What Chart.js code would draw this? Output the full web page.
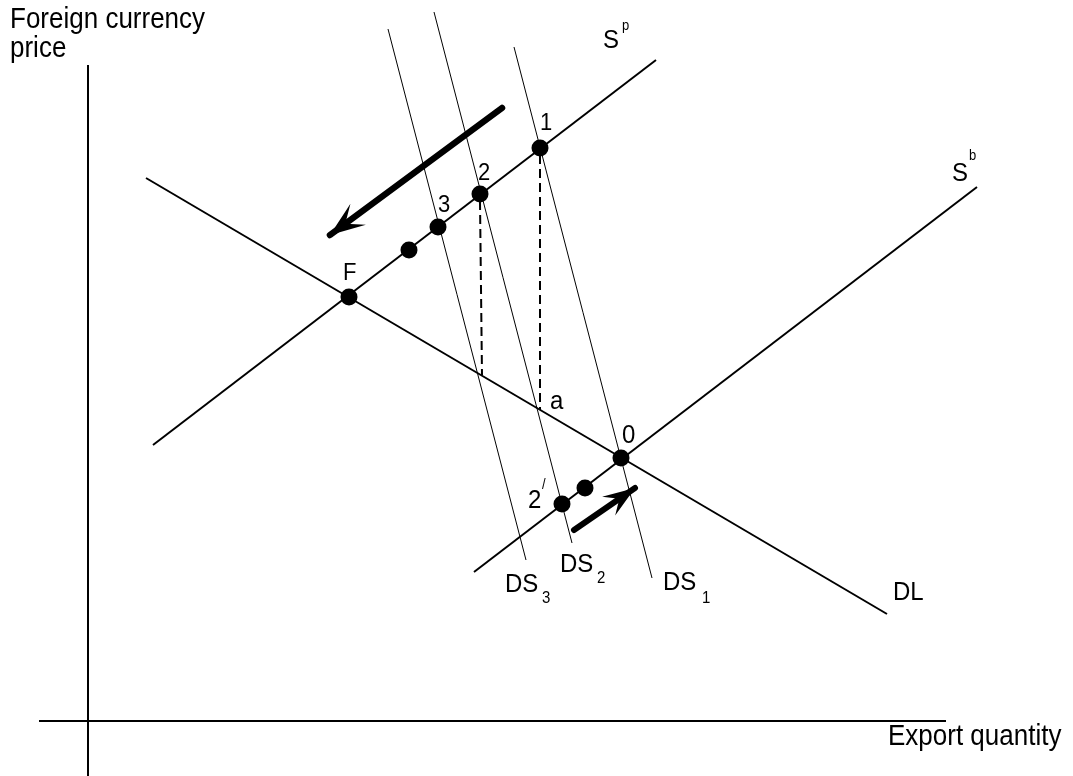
<!DOCTYPE html>
<html><head><meta charset="utf-8">
<script src="https://cdn.jsdelivr.net/npm/chart.js@4.4.1/dist/chart.umd.min.js"></script>
<style>html,body{margin:0;padding:0;background:#fff;overflow:hidden}#wrap{width:1073px;height:776px}</style>
</head><body><div id="wrap"><canvas id="c" width="1073" height="776"></canvas></div>
<script>
// ---- data (diagram units) ----
const xRange = [-8.8, 98.5];
const yRange = [-5.5, 72.1];
const axisXLine = [[-4.9, 0], [85.8, 0]];
const axisYLine = [[0, 65.6], [0, -5.5]];
const supplySp = [[6.5, 27.6], [56.8, 66.1]];
const supplySb = [[38.6, 14.9], [88.9, 53.4]];
const demandDL = [[5.8, 54.3], [79.9, 10.7]];
const demandDS1 = [[42.6, 67.4], [56.4, 14.3]];
const demandDS2 = [[34.6, 70.9], [48.4, 17.8]];
const demandDS3 = [[30.0, 69.2], [43.8, 16.1]];
const dropFrom1 = [[45.2, 56.6], [45.2, 31.1]];
const dropFrom2 = [[39.2, 52.0], [39.4, 34.6]];
const arrowBig = [[41.4, 61.3], [24.2, 48.6]];
const arrowSmall = [[48.6, 19.1], [54.7, 23.3]];
const equilibriumPoints = [[26.1, 42.4], [45.2, 57.3], [39.2, 52.7], [35.0, 49.4], [32.1, 47.1], [53.3, 26.3], [49.7, 23.3], [47.4, 21.7]];
// text labels: [text, x, y, fontSize]
const textLabels = [
  ["Foreign currency", -7.8, 69.3, 26],
  ["price", -7.8, 66.4, 26],
  ["Export quantity", 80.0, -2.4, 26],
  ["S", 51.5, 67.3, 24], ["p", 53.4, 69.1, 13],
  ["S", 86.4, 54.0, 24], ["b", 88.1, 56.1, 13],
  ["1", 45.2, 59.1, 22],
  ["2", 39.0, 54.1, 22],
  ["3", 35.0, 50.9, 22],
  ["F", 25.5, 44.1, 22],
  ["a", 46.2, 31.2, 24],
  ["0", 53.4, 27.8, 24],
  ["2", 44.0, 21.3, 24], ["/", 45.4, 23.2, 13],
  ["DS", 41.7, 12.9, 24], ["3", 45.4, 11.8, 15],
  ["DS", 47.2, 14.9, 24], ["2", 50.9, 13.8, 15],
  ["DS", 57.5, 13.1, 24], ["1", 61.4, 11.8, 15],
  ["DL", 80.5, 12.1, 24]
];

const pts = a => a.map(p => ({x: p[0], y: p[1]}));
const lineDS = (arr, w, extra) => Object.assign({
  data: pts(arr), showLine: true, borderColor: '#000', backgroundColor: '#000',
  borderWidth: w, pointRadius: 0, pointHoverRadius: 0, fill: false, tension: 0, order: 5, clip: false
}, extra || {});

const FONT = '"Liberation Sans", Arial, Helvetica, sans-serif';

const textPlugin = {
  id: 'textLabels',
  afterDatasetsDraw(chart) {
    const {ctx, scales: {x, y}} = chart;
    ctx.save();
    ctx.fillStyle = '#000';
    ctx.textAlign = 'left';
    ctx.textBaseline = 'alphabetic';
    textLabels.forEach(([t, lx, ly, s]) => {
      ctx.save();
      ctx.font = s + 'px ' + FONT;
      ctx.translate(x.getPixelForValue(lx), y.getPixelForValue(ly));
      ctx.scale(1, 1.1);
      ctx.fillText(t, 0, 0);
      ctx.restore();
    });
    ctx.restore();
  }
};

const arrowPlugin = {
  id: 'arrowHeads',
  afterDatasetsDraw(chart) {
    const ctx = chart.ctx;
    chart.data.datasets.forEach((ds, i) => {
      if (!ds.arrowHead) return;
      const els = chart.getDatasetMeta(i).data;
      const a = els[els.length - 2], b = els[els.length - 1];
      const dx = b.x - a.x, dy = b.y - a.y, len = Math.hypot(dx, dy);
      const ux = dx / len, uy = dy / len, nx = -uy, ny = ux;
      const [L, W, N] = ds.arrowHead;
      ctx.save();
      ctx.fillStyle = '#000';
      ctx.beginPath();
      ctx.moveTo(b.x, b.y);
      ctx.lineTo(b.x - ux * L + nx * W, b.y - uy * L + ny * W);
      ctx.lineTo(b.x - ux * N, b.y - uy * N);
      ctx.lineTo(b.x - ux * L - nx * W, b.y - uy * L - ny * W);
      ctx.closePath();
      ctx.fill();
      ctx.restore();
    });
  }
};

new Chart(document.getElementById('c'), {
  type: 'scatter',
  data: {
    datasets: [
      {data: pts(equilibriumPoints), pointRadius: 8.5, pointHoverRadius: 8.5, pointBackgroundColor: '#000', pointBorderColor: '#000', pointBorderWidth: 0, showLine: false, order: 0, clip: false},
      lineDS(axisXLine, 2),
      lineDS(axisYLine, 2),
      lineDS(supplySp, 2),
      lineDS(supplySb, 2),
      lineDS(demandDL, 2),
      lineDS(demandDS1, 1),
      lineDS(demandDS2, 1),
      lineDS(demandDS3, 1),
      lineDS(dropFrom1, 2, {borderDash: [9, 5]}),
      lineDS(dropFrom2, 2, {borderDash: [9, 5]}),
      lineDS(arrowBig, 6.5, {arrowHead: [35, 13, 19], borderCapStyle: 'round', order: 1}),
      lineDS(arrowSmall, 6, {arrowHead: [32, 11.5, 19], borderCapStyle: 'round', order: 1})
    ]
  },
  options: {
    responsive: false,
    animation: false,
    devicePixelRatio: 1,
    events: [],
    layout: {padding: 0, autoPadding: false},
    plugins: {legend: {display: false}, tooltip: {enabled: false}},
    scales: {
      x: {type: 'linear', min: xRange[0], max: xRange[1], display: false},
      y: {type: 'linear', min: yRange[0], max: yRange[1], display: false}
    }
  },
  plugins: [arrowPlugin, textPlugin]
});
</script>
</body></html>
